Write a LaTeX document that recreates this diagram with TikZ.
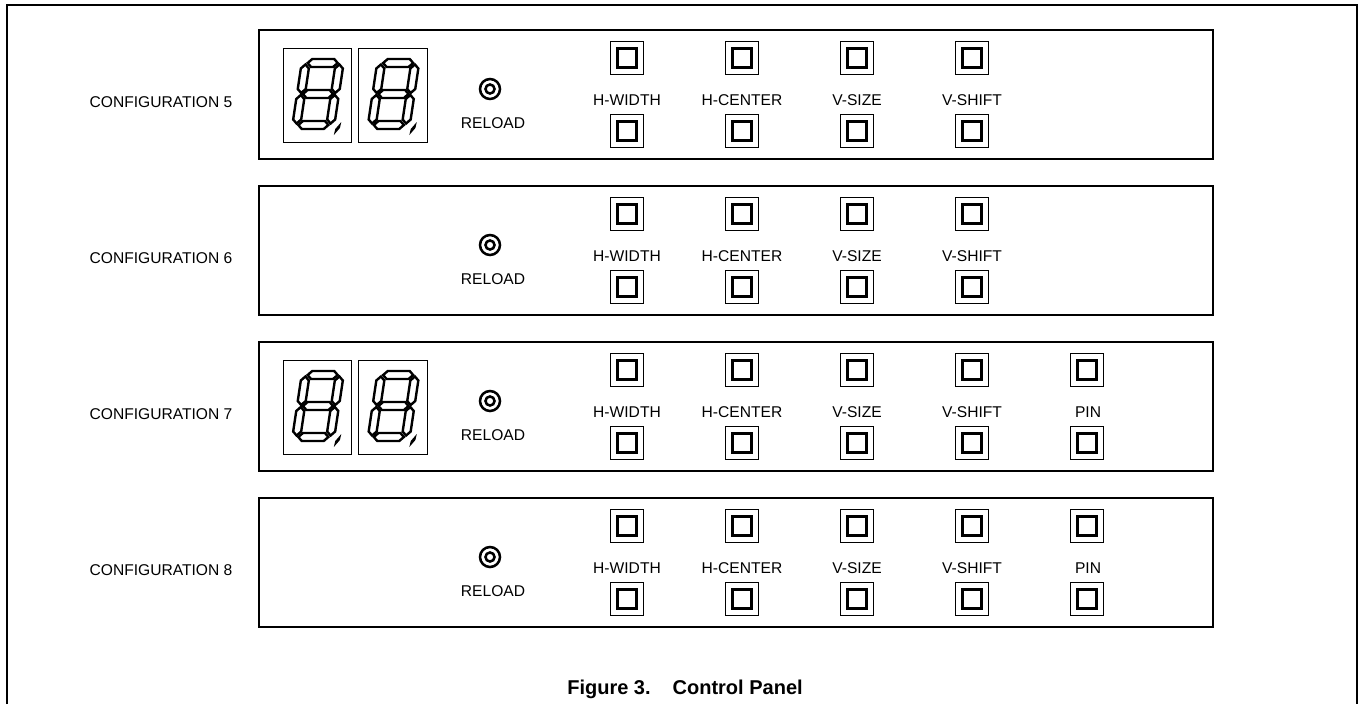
\documentclass[tikz,border=0pt]{standalone}
\usepackage{fontspec}
\setmainfont{Liberation Sans}
\newcommand\segdigit[2]{%
  \begin{scope}[shift={(#1,#2)}, xslant=0.15]
    \draw[seg] (-15,-31) -- (-11,-35) -- (11,-35) -- (15,-31) -- (11,-27) -- (-11,-27) -- cycle;
    \draw[seg] (-15,0) -- (-11,-4) -- (11,-4) -- (15,0) -- (11,4) -- (-11,4) -- cycle;
    \draw[seg] (-15,31) -- (-11,27) -- (11,27) -- (15,31) -- (11,35) -- (-11,35) -- cycle;
    \foreach \xc in {-17,17}{
      \draw[seg] (\xc,-29.5) -- (\xc+4,-25.5) -- (\xc+4,-5) -- (\xc,-1) -- (\xc-4,-5) -- (\xc-4,-25.5) -- cycle;
      \draw[seg] (\xc,29.5) -- (\xc+4,25.5) -- (\xc+4,5) -- (\xc,1) -- (\xc-4,5) -- (\xc-4,25.5) -- cycle;
    }
    \fill (22,41) -- (22.5,35) -- (27.5,28) -- (27,34) -- cycle;
  \end{scope}}
\begin{document}
\begin{tikzpicture}[x=0.75pt,y=-0.75pt,
  frame/.style={line width=1.9pt},
  panel/.style={line width=1.6pt},
  btnout/.style={draw, line width=0.6pt, minimum size=25pt, inner sep=0pt},
  btnin/.style={draw, line width=1.8pt, minimum size=14pt, inner sep=0pt},
  knobo/.style={draw, circle, line width=1.9pt, minimum size=15pt, inner sep=0pt},
  knobi/.style={draw, circle, line width=1.9pt, minimum size=6.8pt, inner sep=0pt},
  lbl/.style={font=\fontsize{11.7}{13}\selectfont, inner sep=0pt},
  seg/.style={draw, fill=white, line width=1.8pt, line join=miter},
  dbox/.style={draw, line width=0.6pt, inner sep=0pt, minimum width=51.5pt, minimum height=70pt},
]
\useasboundingbox (0,0) rectangle (1359,704);
\draw[frame] (7,704) -- (7,5) -- (1357,5) -- (1357,704);
\foreach \k/\n/\disp/\pin in {0/5/1/0,1/6/0/0,2/7/1/1,3/8/0/1}{
  \pgfmathsetmacro\yo{30+156*\k}
  \draw[panel] (259,\yo) rectangle (1213,\yo+129);
  \node[lbl] (cfg\n) at (161,\yo+72) {CONFIGURATION \n};
  \ifnum\disp=1
    \node[dbox] (da\n) at (317.5,\yo+65.5) {};
    \node[dbox] (db\n) at (393,\yo+65.5) {};
    \segdigit{318}{\yo+64}
    \segdigit{393.5}{\yo+64}
  \fi
  \node[knobo] (kn\n) at (490,\yo+59) {};
  \node[knobi] (ki\n) at (kn\n) {};
  \node[lbl] (rl\n) at (493,\yo+93.5) {RELOAD};
  \foreach \c/\t [count=\i] in {627/H-WIDTH,742/H-CENTER,857/V-SIZE,972/V-SHIFT}{
    \node[btnout] (bt\n-\i) at (\c,\yo+28) {};
    \node[btnin] (it\n-\i) at (bt\n-\i) {};
    \node[lbl] (lb\n-\i) at (\c,\yo+70.5) {\t};
    \node[btnout] (bb\n-\i) at (\c,\yo+101) {};
    \node[btnin] (ib\n-\i) at (bb\n-\i) {};
  }
  \ifnum\pin=1
    \node[btnout] (pt\n) at (1087,\yo+28) {};
    \node[btnin] (pti\n) at (pt\n) {};
    \node[lbl] (pl\n) at (1088,\yo+70.5) {PIN};
    \node[btnout] (pb\n) at (1087,\yo+101) {};
    \node[btnin] (pbi\n) at (pb\n) {};
  \fi
}
\node[font=\bfseries\fontsize{15}{18}\selectfont, inner sep=0pt] (cap) at (685,689) {Figure 3.\hspace{1.1em}Control Panel};
\end{tikzpicture}
\end{document}
